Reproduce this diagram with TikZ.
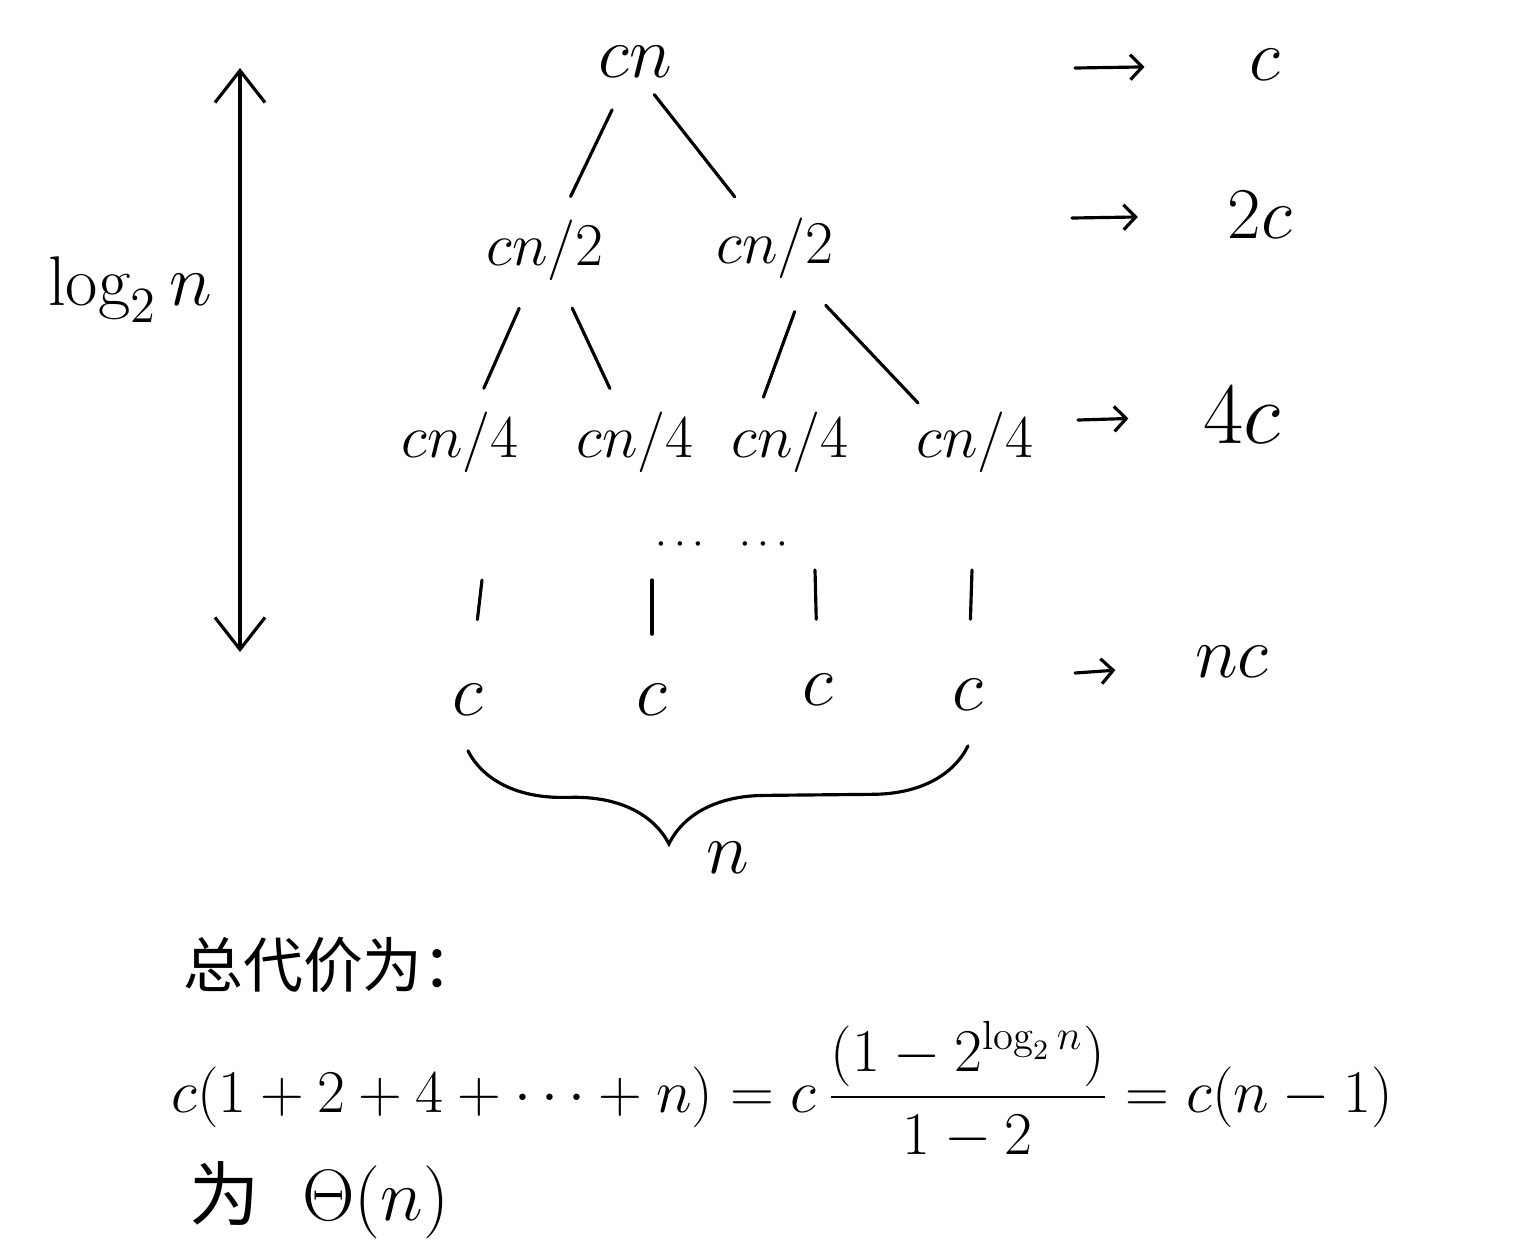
\documentclass[tikz,border=0pt]{standalone}
\usepackage{fontspec}
\newfontfamily\cjk{Noto Sans CJK SC}
\usetikzlibrary{arrows.meta, positioning, decorations.pathreplacing}

\begin{document}
\begin{tikzpicture}[x=0.01cm, y=-0.01cm,
    line width=0.9pt, line cap=round,
    tnode/.style={inner sep=1pt, font=\fontsize{20}{24}\selectfont},
    small/.style={font=\fontsize{18}{22}\selectfont},
    branch/.style={shorten <=0.25cm, shorten >=0.2cm},
    sumarrow/.style={-{Straight Barb[length=0.12cm, width=0.25cm]}},
    heightarrow/.style={{Straight Barb[length=0.32cm, width=0.5cm]}-{Straight Barb[length=0.32cm, width=0.5cm]}}]
    \useasboundingbox (0,0) rectangle (1536,1253);

    % 递归树
    \node[tnode] (root) at (635,62) {$cn$};
    \node[tnode, small] (l1a) at (545,250) {$cn/2$};
    \node[tnode, small] (l1b) at (775,248) {$cn/2$};
    \node[tnode, font=\fontsize{16.5}{20}\selectfont] (l2a) at (460,442) {$cn/4$};
    \node[tnode, font=\fontsize{16.5}{20}\selectfont] (l2b) at (635,442) {$cn/4$};
    \node[tnode, font=\fontsize{16.5}{20}\selectfont] (l2c) at (790,442) {$cn/4$};
    \node[tnode, font=\fontsize{16.5}{20}\selectfont] (l2d) at (975,442) {$cn/4$};

    \draw[branch, shorten <=0.3cm] (root) -- (l1a);
    \draw[branch, shorten <=0.15cm] ([xshift=0.1cm]root.south) -- (l1b);
    \draw[branch] (l1a) -- (l2a);
    \draw[branch] (l1a) -- (l2b);
    \draw[branch, shorten <=0.3cm, shorten >=0.1cm] ([xshift=0.3cm]l1b.south) -- ([xshift=-0.3cm]l2c.north);
    \draw[branch, shorten <=0.3cm, shorten >=0.05cm] ([xshift=0.3cm]l1b.south) -- ([xshift=0.1cm]l2d.north west);

    \node[tnode, font=\fontsize{12}{14}\selectfont] (dots) at (722,545) {$\cdots\ \ \cdots$};

    % 叶子
    \node[tnode] (lfa) at (468,700) {$c$};
    \node[tnode] (lfb) at (652,700) {$c$};
    \node[tnode] (lfc) at (818,690) {$c$};
    \node[tnode] (lfd) at (968,695) {$c$};
    \coordinate (ta) at (482,580);
    \coordinate (tb) at (652,580);
    \coordinate (tc) at (815,570);
    \coordinate (td) at (972,570);
    \draw[shorten >=0.6cm] (ta) -- (lfa);
    \draw[shorten >=0.45cm] (tb) -- (lfb);
    \draw[shorten >=0.5cm] (tc) -- (lfc);
    \draw[shorten >=0.55cm] (td) -- (lfd);

    % 叶子数 n
    \draw[decorate, decoration={brace, mirror, amplitude=0.95cm, aspect=0.4}]
        ([yshift=-0.3cm]lfa.south) -- ([yshift=-0.3cm]lfd.south);
    \node[tnode] (bn) at (728,858) {$n$};

    % 树高
    \coordinate (htop) at (240,68);
    \coordinate (hbot) at (240,652);
    \draw[heightarrow] (htop) -- (hbot);
    \node[tnode] (lg) at (130,290) {$\log_2 n$};

    % 每层代价
    \coordinate (a1) at (1075,68);
    \coordinate (a2) at (1072,218);
    \coordinate (a3) at (1078,420);
    \coordinate (a4) at (1075,673);
    \node[tnode] (s1) at (1265,65) {$c$};
    \node[tnode] (s2) at (1260,215) {$2c$};
    \node[tnode, font=\fontsize{23}{26}\selectfont] (s3) at (1242,415) {$4c$};
    \node[tnode] (s4) at (1232,662) {$nc$};
    \draw[sumarrow, shorten >=1.0cm] (a1) -- (s1);
    \draw[sumarrow, shorten >=0.85cm] (a2) -- (s2);
    \draw[sumarrow, shorten >=0.7cm] (a3) -- (s3);
    \draw[sumarrow, shorten >=0.75cm] (a4) -- (s4);

    % 总代价
    \node[anchor=west, inner sep=0pt, font=\cjk\fontsize{17}{20}\selectfont] (title) at (182,965) {总代价为：};
    \node[anchor=west, inner sep=0pt, font=\fontsize{16.5}{20}\selectfont] (total) at (170,1090)
        {$\displaystyle c(1+2+4+\cdots+n)=c\,\frac{(1-2^{\log_2 n})}{1-2}=c(n-1)$};
    \node[anchor=west, inner sep=0pt, font=\fontsize{20}{24}\selectfont] (res) at (188,1200) {{\cjk 为}\ \ $\Theta(n)$};
\end{tikzpicture}
\end{document}
